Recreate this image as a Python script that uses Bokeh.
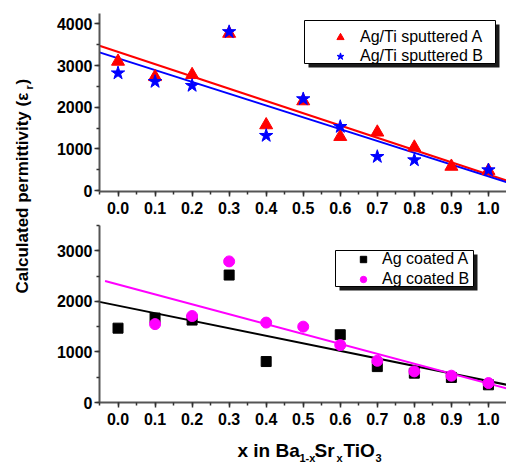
import numpy as np
from bokeh.plotting import figure
from bokeh.models import (Range1d, SingleIntervalTicker, NumeralTickFormatter, Legend,
                          LegendItem, Label, BoxAnnotation)
from bokeh.layouts import row, column
from bokeh.embed import file_html
from bokeh.resources import INLINE

nan = float("nan")

# ---------------- data ----------------
x_frac = [0.0, 0.1, 0.2, 0.3, 0.4, 0.5, 0.6, 0.7, 0.8, 0.9, 1.0]

sputtered_A = [3100, 2730, 2780, 3770, 1575, 2150, 1295, 1400, 1040, 580, 480]
sputtered_B = [2820, 2615, 2520, 3810, 1320, 2200, 1535, 815, 735, nan, 495]

coated_A = [1470, 1670, 1630, 2520, 810, nan, 1340, 710, 580, 495, 350]
coated_B = [nan, 1550, 1710, 2790, 1580, 1500, 1135, 825, 615, 530, 385]

fit_x = [-0.05, 1.05]
fit_sputtered_A = [3477, 240]
fit_sputtered_B = [3317, 200]
fit_coated_A = [1990, 350]
fit_coated_B_x = [-0.035, 1.05]
fit_coated_B = [2404, 277]

x_ticks_step = 0.1
top_y_step = 1000
bottom_y_step = 1000

FONT = "Liberation Sans"


def style(p):
    p.xaxis.ticker = SingleIntervalTicker(interval=x_ticks_step, num_minor_ticks=2)
    p.xaxis.formatter = NumeralTickFormatter(format="0.0")
    p.yaxis.formatter = NumeralTickFormatter(format="0")
    for ax in p.axis:
        ax.major_label_text_font = FONT
        ax.major_label_text_font_style = "bold"
        ax.major_label_text_font_size = "16px"
        ax.major_label_text_color = "black"
        ax.axis_line_color = "#555555"
        ax.axis_line_width = 2
        ax.major_tick_line_color = "#333333"
        ax.major_tick_line_width = 1.5
        ax.minor_tick_line_color = "#333333"
        ax.minor_tick_line_width = 1.5
        ax.major_tick_in = 0
        ax.major_tick_out = 5
        ax.minor_tick_in = 0
        ax.minor_tick_out = 3
    p.yaxis.major_label_standoff = 2
    p.xaxis.major_label_standoff = 5
    p.grid.visible = False
    p.outline_line_color = None
    p.background_fill_color = "white"
    p.border_fill_color = "white"


def boxed_legend(p, items, box, loc, glyph_h, spacing, standoff, padding):
    """box = (left, right, bottom, top) in frame pixels; shadow offset 4 px."""
    l, r, b, t = box
    p.add_layout(BoxAnnotation(left=l + 4, right=r + 4, bottom=b - 4, top=t - 4,
                               left_units="screen", right_units="screen",
                               top_units="screen", bottom_units="screen",
                               fill_color="#1a1a1a", fill_alpha=1, line_color=None))
    p.add_layout(BoxAnnotation(left=l, right=r, bottom=b, top=t,
                               left_units="screen", right_units="screen",
                               top_units="screen", bottom_units="screen",
                               fill_color="white", fill_alpha=1,
                               line_color="black", line_width=1, line_alpha=1))
    leg = Legend(items=items, location=loc, padding=padding, spacing=spacing, margin=0,
                 glyph_width=20, glyph_height=glyph_h, label_height=glyph_h,
                 label_standoff=standoff,
                 label_text_font=FONT, label_text_font_size="16px",
                 label_text_color="black",
                 border_line_color=None, background_fill_alpha=0)
    p.add_layout(leg)


X_RANGE = (-0.05, 1.0488)

# ---------------- top panel ----------------
top = figure(width=468, height=222, output_backend="svg", toolbar_location=None,
             x_range=Range1d(*X_RANGE), y_range=Range1d(-20, 4250),
             min_border_left=61, min_border_right=0, min_border_top=13, min_border_bottom=31)
style(top)
top.yaxis.ticker = SingleIntervalTicker(interval=top_y_step, num_minor_ticks=2)

top.line(fit_x, fit_sputtered_A, line_color="#ff0000", line_width=2)
top.line(fit_x, fit_sputtered_B, line_color="#0000ff", line_width=2)
rA = top.scatter(x_frac, sputtered_A, marker="triangle", size=13,
                 fill_color="#ff0000", line_color="#ff0000")
rB = top.scatter(x_frac, sputtered_B, marker="star", size=14,
                 fill_color="#0000ff", line_color="#0000ff")

boxed_legend(top, [LegendItem(label="Ag/Ti sputtered A", renderers=[rA]),
                   LegendItem(label="Ag/Ti sputtered B", renderers=[rB])],
             box=(205, 396, 128, 171), loc=(231, 126), glyph_h=18, spacing=1,
             standoff=10, padding=3)

# ---------------- bottom panel ----------------
bot = figure(width=468, height=210, output_backend="svg", toolbar_location=None,
             x_range=Range1d(*X_RANGE), y_range=Range1d(0, 3500),
             min_border_left=61, min_border_right=0, min_border_top=3, min_border_bottom=30)
style(bot)
bot.yaxis.ticker = SingleIntervalTicker(interval=bottom_y_step, num_minor_ticks=2)

bot.line(fit_x, fit_coated_A, line_color="black", line_width=2)
bot.line(fit_coated_B_x, fit_coated_B, line_color="#ff00ff", line_width=2)
rcA = bot.scatter(x_frac, coated_A, marker="square", size=10,
                  fill_color="black", line_color="black")
rcB = bot.scatter(x_frac, coated_B, marker="circle", size=11,
                  fill_color="#ff00ff", line_color="#ff00ff")

boxed_legend(bot, [LegendItem(label="Ag coated A", renderers=[rcA]),
                   LegendItem(label="Ag coated B", renderers=[rcB])],
             box=(236, 374, 116, 152), loc=(254, 114), glyph_h=16, spacing=2,
             standoff=9, padding=1)

# ---------------- x-axis title strip (with subscripts) ----------------
xlab = figure(width=468, height=31, output_backend="svg", toolbar_location=None,
              x_axis_type=None, y_axis_type=None, x_range=Range1d(0, 1), y_range=Range1d(0, 1),
              min_border=0, min_border_left=0, min_border_right=0,
              min_border_top=0, min_border_bottom=0)
xlab.grid.visible = False
xlab.outline_line_color = None
xlab.border_fill_color = "white"
xlab_parts = [("x in Ba", 138, 13, "19px"), ("1-x", 200, 6, "11px"),
              ("Sr", 215, 13, "19px"), ("x", 237, 6, "11px"),
              ("TiO", 244, 13, "19px"), ("3", 276, 6, "11px")]
for txt, sx, sy, fs in xlab_parts:
    xlab.add_layout(Label(x=sx, y=sy, x_units="screen", y_units="screen", text=txt,
                          text_font=FONT, text_font_style="bold", text_font_size=fs,
                          text_color="black", text_baseline="alphabetic", text_align="left"))

# ---------------- y-axis title column ----------------
ylab = figure(width=38, height=463, output_backend="svg", toolbar_location=None,
              x_axis_type=None, y_axis_type=None, x_range=Range1d(0, 1), y_range=Range1d(0, 1),
              min_border=0, min_border_left=0, min_border_right=0,
              min_border_top=0, min_border_bottom=0)
ylab.grid.visible = False
ylab.outline_line_color = None
ylab.border_fill_color = "white"
for txt, sx, sy, fs in [("Calculated permittivity (ε", 22, 170, "17px"),
                        ("r", 28, 374, "11px"),
                        (")", 22, 379, "17px")]:
    ylab.add_layout(Label(x=sx, y=sy, x_units="screen", y_units="screen", text=txt,
                          angle=np.pi / 2, text_font=FONT, text_font_style="bold",
                          text_font_size=fs, text_color="black",
                          text_baseline="middle", text_align="left"))

layout = row(ylab, column(top, bot, xlab, spacing=0), spacing=0)

with open("out.html", "w") as f:
    f.write(file_html(layout, INLINE))
